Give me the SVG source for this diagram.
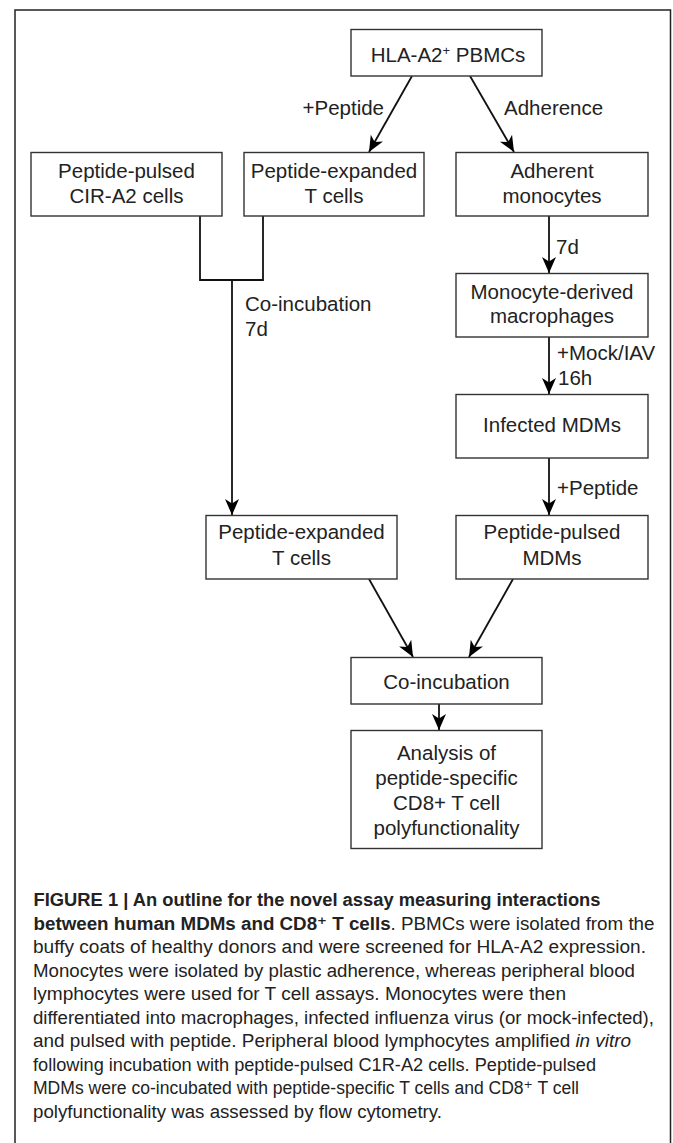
<svg xmlns="http://www.w3.org/2000/svg" width="673" height="1143" viewBox="0 0 673 1143">
<defs>
<style>
.box{fill:#fff;stroke:#333;stroke-width:1.4}
.lbl{font-family:"Liberation Sans",Arial,sans-serif;font-size:20.5px;fill:#222}
.c{text-anchor:middle}
.conn{fill:none;stroke:#111;stroke-width:1.8}
.cap{font-family:"Liberation Sans","DejaVu Sans",Arial,sans-serif;font-size:18px;fill:#222}
.b{font-weight:bold}
</style>
<marker id="ah" markerUnits="userSpaceOnUse" markerWidth="18" markerHeight="16" refX="16" refY="8" orient="auto">
<path d="M0,1 L16,8 L0,15 L4.5,8 z" fill="#000"/>
</marker>
</defs>
<rect width="673" height="1143" fill="#fff"/>
<path d="M15,1150 V10 H670.5 V1150" fill="none" stroke="#222" stroke-width="1.5"/>

<g id="connectors">
<line class="conn" x1="412" y1="76" x2="369" y2="152" marker-end="url(#ah)"/>
<line class="conn" x1="470" y1="76" x2="514" y2="152" marker-end="url(#ah)"/>
<polyline class="conn" points="200,216 200,280 263,280 263,216"/>
<line class="conn" x1="232" y1="280" x2="232" y2="515" marker-end="url(#ah)"/>
<line class="conn" x1="549" y1="216" x2="549" y2="273" marker-end="url(#ah)"/>
<line class="conn" x1="549" y1="337" x2="549" y2="394" marker-end="url(#ah)"/>
<line class="conn" x1="549" y1="458" x2="549" y2="515" marker-end="url(#ah)"/>
<line class="conn" x1="369" y1="579" x2="413" y2="657" marker-end="url(#ah)"/>
<line class="conn" x1="513" y1="579" x2="469" y2="657" marker-end="url(#ah)"/>
<line class="conn" x1="439" y1="704" x2="439" y2="730" marker-end="url(#ah)"/>
<text class="lbl" x="384" y="115" text-anchor="end">+Peptide</text>
<text class="lbl" x="504" y="115">Adherence</text>
<text class="lbl" x="245" y="311">Co-incubation</text>
<text class="lbl" x="245" y="336">7d</text>
<text class="lbl" x="556" y="254">7d</text>
<text class="lbl" x="557" y="360">+Mock/IAV</text>
<text class="lbl" x="558" y="385">16h</text>
<text class="lbl" x="557" y="495">+Peptide</text>
</g>

<g id="pbmc">
<rect class="box" x="351" y="29.5" width="191" height="46.5"/>
<text class="lbl c" x="448" y="62">HLA-A2<tspan font-size="13" dy="-7">+</tspan><tspan dy="7"> PBMCs</tspan></text>
</g>
<g id="cir">
<rect class="box" x="31" y="152.5" width="191" height="63.5"/>
<text class="lbl c" x="126.5" y="178">Peptide-pulsed</text>
<text class="lbl c" x="126.5" y="203">CIR-A2 cells</text>
</g>
<g id="texp1">
<rect class="box" x="244" y="152.5" width="180" height="63.5"/>
<text class="lbl c" x="334" y="178">Peptide-expanded</text>
<text class="lbl c" x="334" y="203">T cells</text>
</g>
<g id="adherent">
<rect class="box" x="456" y="152.5" width="192" height="63.5"/>
<text class="lbl c" x="552" y="178">Adherent</text>
<text class="lbl c" x="552" y="203">monocytes</text>
</g>
<g id="mdm">
<rect class="box" x="456" y="273.5" width="192" height="63.5"/>
<text class="lbl c" x="552" y="299">Monocyte-derived</text>
<text class="lbl c" x="552" y="323">macrophages</text>
</g>
<g id="infected">
<rect class="box" x="456" y="394.5" width="192" height="63.5"/>
<text class="lbl c" x="552" y="432">Infected MDMs</text>
</g>
<g id="texp2">
<rect class="box" x="206" y="515.5" width="191" height="63.5"/>
<text class="lbl c" x="301.5" y="539">Peptide-expanded</text>
<text class="lbl c" x="301.5" y="565">T cells</text>
</g>
<g id="pulsed">
<rect class="box" x="456" y="515.5" width="192" height="63.5"/>
<text class="lbl c" x="552" y="539">Peptide-pulsed</text>
<text class="lbl c" x="552" y="565">MDMs</text>
</g>
<g id="coinc">
<rect class="box" x="351" y="657.5" width="191" height="46.5"/>
<text class="lbl c" x="446.5" y="689">Co-incubation</text>
</g>
<g id="analysis">
<rect class="box" x="351" y="730.5" width="191" height="118"/>
<text class="lbl c" x="446.5" y="760">Analysis of</text>
<text class="lbl c" x="446.5" y="785">peptide-specific</text>
<text class="lbl c" x="446.5" y="810">CD8+ T cell</text>
<text class="lbl c" x="446.5" y="835">polyfunctionality</text>
</g>

<g id="caption">
<text class="cap b" x="33.5" y="906" textLength="567" lengthAdjust="spacingAndGlyphs">FIGURE 1 | An outline for the novel assay measuring interactions</text>
<text class="cap" x="33.5" y="929.5" textLength="621" lengthAdjust="spacingAndGlyphs"><tspan class="b">between human MDMs and CD8⁺ T cells</tspan>. PBMCs were isolated from the</text>
<text class="cap" x="33" y="953" textLength="613" lengthAdjust="spacingAndGlyphs">buffy coats of healthy donors and were screened for HLA-A2 expression.</text>
<text class="cap" x="33" y="976.5" textLength="602" lengthAdjust="spacingAndGlyphs">Monocytes were isolated by plastic adherence, whereas peripheral blood</text>
<text class="cap" x="33" y="1000" textLength="533" lengthAdjust="spacingAndGlyphs">lymphocytes were used for T cell assays. Monocytes were then</text>
<text class="cap" x="33" y="1023.5" textLength="621" lengthAdjust="spacingAndGlyphs">differentiated into macrophages, infected influenza virus (or mock-infected),</text>
<text class="cap" x="33" y="1047" textLength="598" lengthAdjust="spacingAndGlyphs">and pulsed with peptide. Peripheral blood lymphocytes amplified <tspan font-style="italic">in vitro</tspan></text>
<text class="cap" x="33" y="1070.5" textLength="563" lengthAdjust="spacingAndGlyphs">following incubation with peptide-pulsed C1R-A2 cells. Peptide-pulsed</text>
<text class="cap" x="33" y="1094" textLength="546" lengthAdjust="spacingAndGlyphs">MDMs were co-incubated with peptide-specific T cells and CD8⁺ T cell</text>
<text class="cap" x="33" y="1117.5" textLength="409" lengthAdjust="spacingAndGlyphs">polyfunctionality was assessed by flow cytometry.</text>
</g>
</svg>
